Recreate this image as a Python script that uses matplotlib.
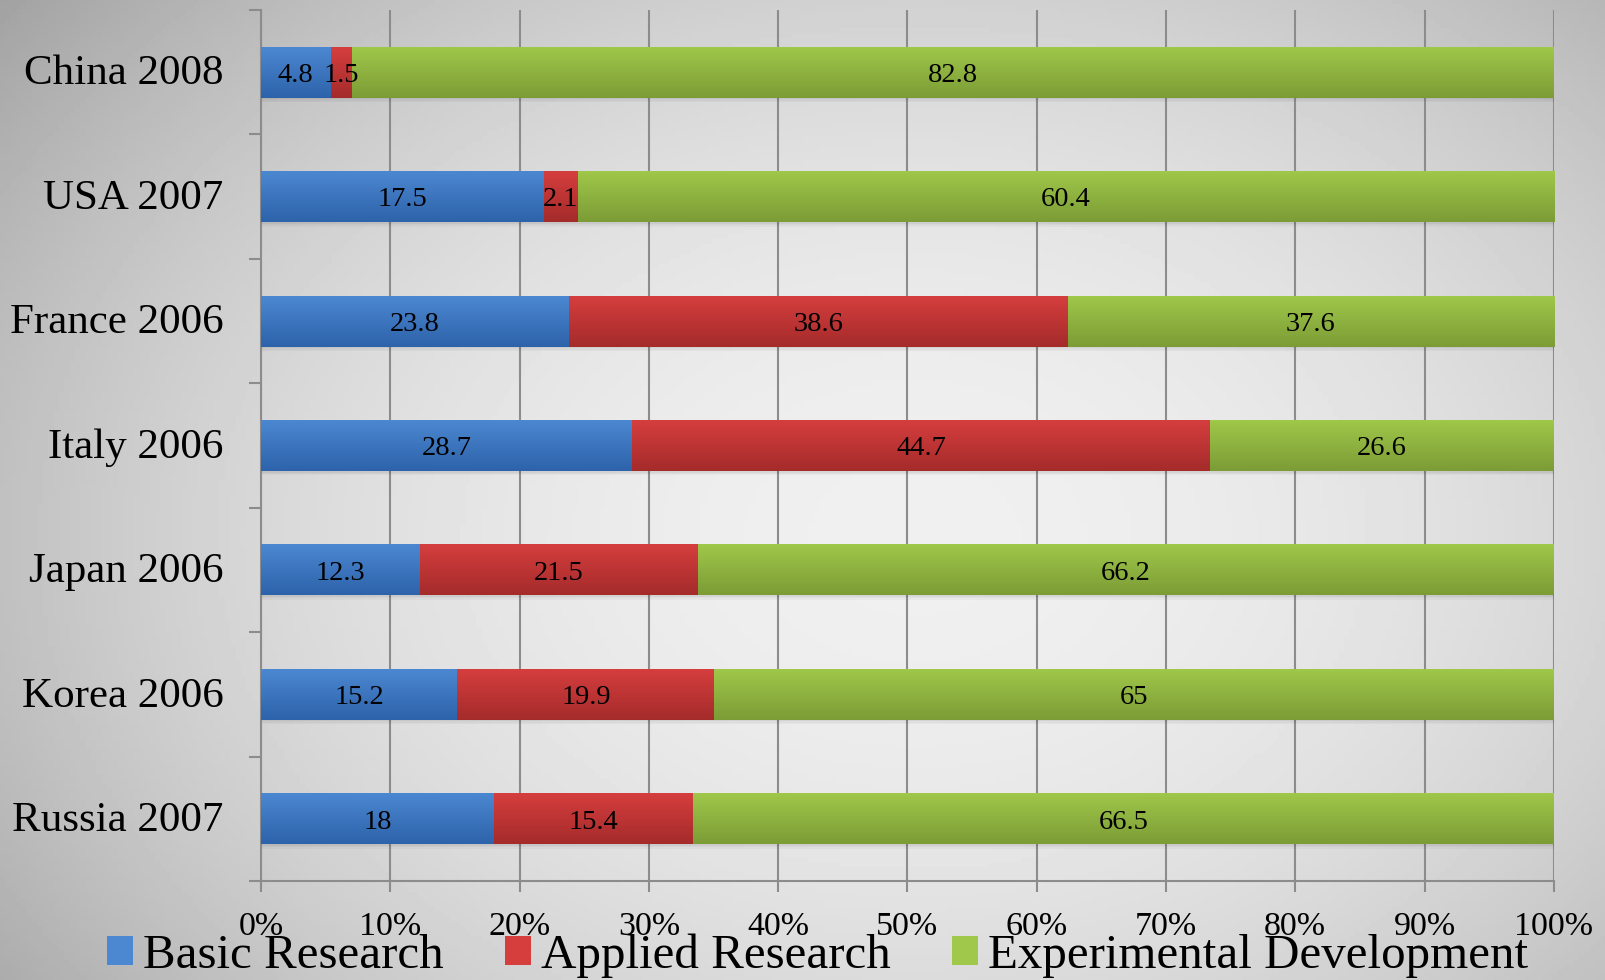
import numpy as np
import matplotlib
matplotlib.use("Agg")
import matplotlib.pyplot as plt
from matplotlib.colors import LinearSegmentedColormap
from matplotlib.patches import Rectangle

# data (top to bottom as in the chart)
countries = ["China 2008", "USA 2007", "France 2006", "Italy 2006",
             "Japan 2006", "Korea 2006", "Russia 2007"]
basic = [4.8, 17.5, 23.8, 28.7, 12.3, 15.2, 18]
applied = [1.5, 2.1, 38.6, 44.7, 21.5, 19.9, 15.4]
experimental = [82.8, 60.4, 37.6, 26.6, 66.2, 65, 66.5]
series_names = ["Basic Research", "Applied Research", "Experimental Development"]

# light (top) / dark (bottom) colours of each series
colors = [("#4C88D2", "#2D63AA"), ("#D63E3E", "#A52B2B"), ("#A0C84A", "#7C9C36")]

plt.rcParams['font.family'] = ['Liberation Serif', 'DejaVu Serif']

fig = plt.figure(figsize=(16.06, 9.8), dpi=100)

# grey slide background, lighter in the middle
bg = fig.add_axes([0, 0, 1, 1], zorder=-10)
yy, xx = np.mgrid[0:1:200j, 0:1:300j]
r2 = ((xx - 0.57) / 0.75) ** 2 + ((yy - 0.55) / 0.9) ** 2
bg.imshow(np.clip(0.94 - 0.32 * r2, 0, 1), cmap="gray", vmin=0, vmax=1,
          extent=(0, 1, 0, 1), aspect="auto")
bg.axis("off")

ax = fig.add_axes([0.1625, 0.101, 0.805, 0.8888])
ax.set_facecolor("none")

n = len(countries)
y = np.arange(n)[::-1]
h = 0.41
data = np.array([basic, applied, experimental], dtype=float)
pct = data / data.sum(axis=0) * 100

left = np.zeros(n)
handles = []
for i, name in enumerate(series_names):
    light, dark = colors[i]
    bars = ax.barh(y, pct[i], left=left, height=h, color=light,
                   label=name, zorder=3, linewidth=0)
    cmap = LinearSegmentedColormap.from_list("g%d" % i, [dark, light])
    grad = np.linspace(0, 1, 64).reshape(-1, 1)
    for b in bars:
        x0, y0 = b.get_x(), b.get_y()
        im = ax.imshow(grad, cmap=cmap, origin="lower", aspect="auto",
                       extent=(x0, x0 + b.get_width(), y0, y0 + b.get_height()),
                       zorder=3.5)
        im.set_clip_path(b)
    for yi, l, v, raw in zip(y, left, pct[i], data[i]):
        # baseline shifted so the digits sit centred in the bar
        ax.annotate("%g" % raw, (l + v / 2, yi), xytext=(0, -7),
                    textcoords="offset points", ha="center", va="baseline",
                    fontsize=20.5, color="black", zorder=5)
    handles.append(Rectangle((0, 0), 1, 1, facecolor=light, edgecolor="none"))
    left = left + pct[i]

# soft shadow under each bar
for yi in y:
    for k, a in enumerate([0.10, 0.06, 0.03]):
        ax.add_patch(Rectangle((0, yi - h / 2 - 0.012 * (k + 1)), 100, 0.012,
                               facecolor="black", alpha=a, linewidth=0, zorder=2.5))

ax.set_xlim(0, 100)
ax.set_ylim(-0.5, n - 0.5)
ax.set_xticks(np.arange(0, 101, 10))
ax.set_xticklabels(["%d%%" % v for v in range(0, 101, 10)], fontsize=24.5)
ax.set_yticks(y + 0.02)
ax.set_yticklabels(countries, fontsize=31)
ax.set_yticks(np.arange(-0.5, n, 1), minor=True)

ax.tick_params(axis="y", which="major", length=0, pad=27)
ax.tick_params(axis="y", which="minor", length=9, width=1.5, color="#8c8c8c")
ax.tick_params(axis="x", length=8, width=1.5, color="#8c8c8c", pad=14)

ax.grid(axis="x", color="#8c8c8c", linewidth=1.5, zorder=1)
ax.set_axisbelow(True)
for s in ["top", "right"]:
    ax.spines[s].set_visible(False)
for s in ["left", "bottom"]:
    ax.spines[s].set_color("#8c8c8c")
    ax.spines[s].set_linewidth(1.5)

fig.legend(handles, series_names, loc="center", bbox_to_anchor=(0.509, 0.025),
           ncol=3, frameon=False, fontsize=35.3, borderpad=0,
           handlelength=0.53, handleheight=0.53, handletextpad=0.2,
           columnspacing=1.26)

fig.savefig("out.png", dpi=100)
